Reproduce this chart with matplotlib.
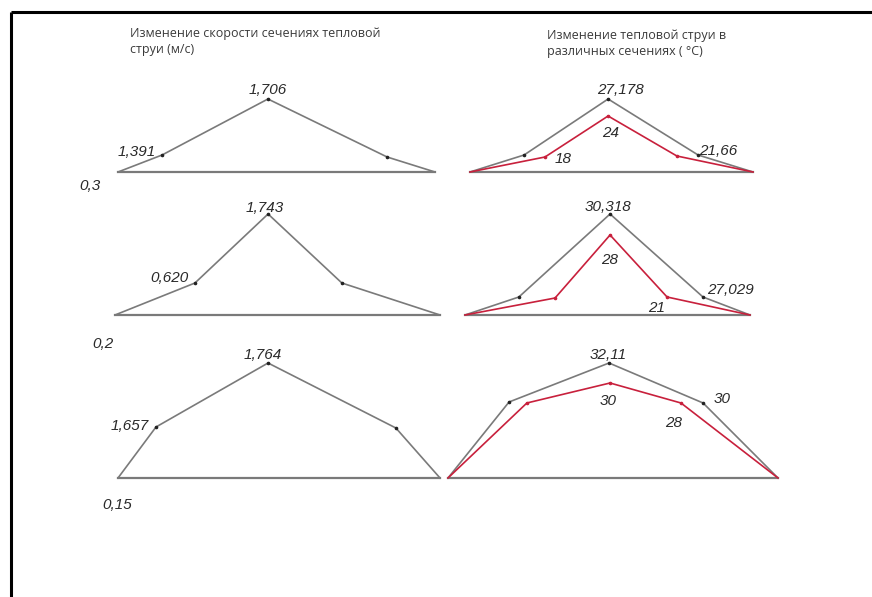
import matplotlib.pyplot as plt

# --- data -----------------------------------------------------------------
# each profile: relative position across the section (0..1) and drawn height
speed_x = [
    [0, 0.139, 0.473, 0.849, 1],   # section 0,3
    [0, 0.246, 0.471, 0.698, 1],   # section 0,2
    [0, 0.118, 0.466, 0.863, 1],   # section 0,15
]
speed_h = [
    [0, 17, 73, 15, 0],
    [0, 32, 101, 32, 0],
    [0, 51, 115, 50, 0],
]
speed_labels = [
    ["1,391", "1,706"],
    ["0,620", "1,743"],
    ["1,657", "1,764"],
]

temp_gray_x = [
    [0, 0.191, 0.488, 0.806, 1],
    [0, 0.189, 0.509, 0.835, 1],
    [0, 0.185, 0.488, 0.773, 1],
]
temp_gray_h = [
    [0, 17, 73, 17, 0],
    [0, 18, 101, 18, 0],
    [0, 76, 115, 75, 0],
]
temp_red_x = [
    [0, 0.265, 0.488, 0.731, 1],
    [0, 0.316, 0.509, 0.709, 1],
    [0, 0.239, 0.491, 0.706, 1],
]
temp_red_h = [
    [0, 15, 56, 16, 0],
    [0, 17, 80, 18, 0],
    [0, 75, 95, 75, 0],
]
temp_gray_labels = [
    ["27,178", "21,66"],
    ["30,318", "27,029"],
    ["32,11", "30"],
]
temp_red_labels = [
    ["18", "24"],
    ["28", "21"],
    ["30", "28"],
]
sections = ["0,3", "0,2", "0,15"]

title_speed = "Изменение скорости сечениях тепловой\nструи (м/с)"
title_temp = "Изменение тепловой струи в\nразличных сечениях ( °C)"

# --- layout (pixels) --------------------------------------------------------
speed_panels = [(118, 172, 317), (115, 315, 325), (118, 478, 322)]
temp_panels = [(470, 172, 283), (465, 315, 285), (448, 478, 330)]
section_pos = [(90, 186), (103, 344), (117, 505)]

# (vertex index, dx, dy) for every label
speed_lab_pos = [
    [(1, -25, -3), (2, 0, -9)],
    [(1, -25, -5), (2, -3, -6)],
    [(1, -26, -1), (2, -5, -8)],
]
gray_lab_pos = [
    [(2, 12, -9), (3, 20, -4)],
    [(2, -2, -7), (3, 27, -7)],
    [(2, -1, -8), (3, 19, -4)],
]
red_lab_pos = [
    [(1, 18, 2), (2, 2, 17)],
    [(2, 0, 25), (3, -10, 11)],
    [(2, -2, 18), (3, -7, 20)],
]

GRAY = "#7a7a7a"
RED = "#c8203c"
LAB = dict(fontsize=11, style="italic", color="#2a2a2a",
           family="Liberation Sans", ha="center", va="center")
TITLE = dict(fontsize=9, color="#3a3a3a", family="Open Sans",
             ha="left", va="center", linespacing=1.35)

fig = plt.figure(figsize=(8.72, 5.97), dpi=100)
ax = fig.add_axes([0, 0, 1, 1])
ax.set_xlim(0, 872)
ax.set_ylim(597, 0)
ax.axis("off")

# frame lines
ax.plot([11, 872], [12, 12], color="black", lw=2.2, solid_capstyle="butt")
ax.plot([11, 11], [12, 597], color="black", lw=2.2, solid_capstyle="butt")


def profile(panel, xs, hs):
    x0, y0, w = panel
    return [x0 + f * w for f in xs], [y0 - h for h in hs]


def draw(panel, xs, hs, color):
    px, py = profile(panel, xs, hs)
    ax.plot(px, py, color=color, lw=1.2)
    ax.plot(px[1:-1], py[1:-1], "o", ms=1.6, color="#222222" if color == GRAY else color)
    return px, py


def baseline(panel):
    x0, y0, w = panel
    ax.plot([x0, x0 + w], [y0, y0], color=GRAY, lw=1.6)


def labels(px, py, texts, pos):
    for t, (i, dx, dy) in zip(texts, pos):
        ax.text(px[i] + dx, py[i] + dy, t, **LAB)


for k in range(3):
    baseline(speed_panels[k])
    px, py = draw(speed_panels[k], speed_x[k], speed_h[k], GRAY)
    labels(px, py, speed_labels[k], speed_lab_pos[k])

    baseline(temp_panels[k])
    gx, gy = draw(temp_panels[k], temp_gray_x[k], temp_gray_h[k], GRAY)
    rx, ry = draw(temp_panels[k], temp_red_x[k], temp_red_h[k], RED)
    labels(gx, gy, temp_gray_labels[k], gray_lab_pos[k])
    labels(rx, ry, temp_red_labels[k], red_lab_pos[k])

    sx, sy = section_pos[k]
    ax.text(sx, sy, sections[k], **LAB)

ax.text(130, 41.5, title_speed, **TITLE)
ax.text(547, 43.5, title_temp, **TITLE)

fig.savefig("out.png", dpi=100)
